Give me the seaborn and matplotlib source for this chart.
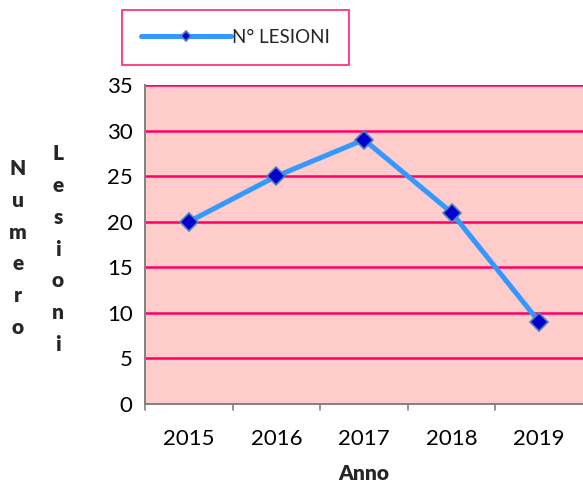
import matplotlib
matplotlib.use("Agg")
import matplotlib.pyplot as plt
import seaborn as sns
import pandas as pd

# data
anni = ["2015", "2016", "2017", "2018", "2019"]
lesioni = [20, 25, 29, 21, 9]
serie = "N° LESIONI"

sns.set_style("white")
plt.rcParams["font.family"] = ["Lato", "DejaVu Sans"]

df = pd.DataFrame({"Anno": anni, "Lesioni": lesioni})

fig = plt.figure(figsize=(5.83, 4.86), dpi=100)
ax = fig.add_axes([145 / 583, 82 / 486, 438 / 583, 319 / 486])
ax.set_facecolor("#FFCCCC")

sns.lineplot(data=df, x="Anno", y="Lesioni", ax=ax, color="#3399FF",
             linewidth=3.6, marker="D", markersize=9,
             markerfacecolor="#0000CC", markeredgecolor="#4F81BD",
             markeredgewidth=1.2, label=serie, sort=False)

ax.set_xlim(-0.5, 4.5)
ax.set_ylim(0, 35)
ax.set_yticks(range(0, 36, 5))
ax.tick_params(axis="both", labelsize=16, length=5, width=1.2,
               direction="out")
ax.tick_params(axis="x", colors="#808080", labelcolor="black", pad=18,
               length=0)
ax.tick_params(axis="y", colors="#808080", labelcolor="black", pad=4)

# tacche sull'asse x tra le categorie
for b in [-0.5, 0.5, 1.5, 2.5, 3.5]:
    ax.plot([b, b], [0, -0.7], color="#808080", lw=1.2, clip_on=False)

for y in range(5, 36, 5):
    ax.axhline(y, color="#FF0066", lw=1.8, zorder=1)

for s in ["left", "bottom"]:
    ax.spines[s].set_color("#808080")
    ax.spines[s].set_linewidth(1.4)
ax.spines["top"].set_visible(False)
ax.spines["right"].set_visible(False)

ax.set_xlabel("Anno", fontsize=15, fontweight="heavy", labelpad=11)
ax.set_ylabel("")

fig.text(18 / 583, 1 - 248 / 486, "N\nu\nm\ne\nr\no", ha="center", va="center",
         fontsize=15, fontweight="heavy", linespacing=1.8)
fig.text(58 / 583, 1 - 249 / 486, "L\ne\ns\ni\no\nn\ni", ha="center",
         va="center", fontsize=15, fontweight="heavy", linespacing=1.8)

leg = ax.legend(loc="center", bbox_to_anchor=(235.5 / 583, 1 - 37.5 / 486),
                bbox_transform=fig.transFigure, frameon=True, fancybox=False,
                fontsize=13.5, handlelength=4.8, borderpad=1.0,
                handletextpad=0.1, borderaxespad=0, markerscale=0.6)
leg.get_frame().set_edgecolor("#FF0066")
leg.get_frame().set_linewidth(1.3)

fig.savefig("out.png", dpi=100)
